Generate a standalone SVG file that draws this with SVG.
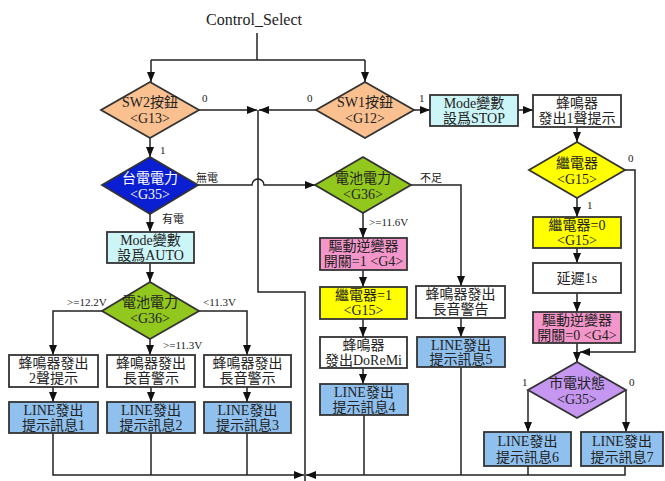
<svg xmlns="http://www.w3.org/2000/svg" width="665" height="481" viewBox="0 0 665 481">
<defs>
<style>
  text { font-family: "Liberation Serif", "Noto Sans CJK TC", serif; fill: #222; }
  .t { font-size: 14px; text-anchor: middle; }
  .tw { fill: #fff; }
  .lbl { font-size: 11px; }
  .ln { fill: none; stroke: #222; stroke-width: 1.5; }
  .arr { marker-end: url(#ah); }
  .shp { stroke: #333; stroke-width: 1.8; }
  .orange { fill: #FAC08F; }
  .blue { fill: #0A1ED2; }
  .green { fill: #92C81E; }
  .cyan { fill: #CCF5F8; }
  .pink { fill: #F596CB; }
  .yellow { fill: #FFFF00; }
  .purple { fill: #C597F0; }
  .lineb { fill: #8FC0EE; }
  .white { fill: #fff; }
</style>
<marker id="ah" viewBox="0 0 10 8" refX="10" refY="4" markerWidth="10" markerHeight="8" markerUnits="userSpaceOnUse" orient="auto">
  <path d="M0,0 L10,4 L0,8 z" fill="#111"/>
</marker>
</defs>
<rect width="665" height="481" fill="#fff"/>

<g id="title">
  <text x="254" y="25" style="font-size:16px;text-anchor:middle">Control_Select</text>
</g>

<!-- connectors -->
<g id="connectors">
  <path class="ln" d="M257,33 V60"/>
  <path class="ln" d="M151,60 H365"/>
  <path class="ln arr" d="M151,60 V82"/>
  <path class="ln arr" d="M365,60 V82"/>
  <path class="ln arr" d="M199,110 H257"/>
  <path class="ln arr" d="M316,110 H259"/>
  <path class="ln" d="M258,110 V292 H305 V481"/>
  <path class="ln arr" d="M150,138 V157"/>
  <path class="ln arr" d="M198,185 H252 A6,6 0 0 1 264,185 H315"/>
  <path class="ln arr" d="M150,214 V232"/>
  <path class="ln arr" d="M150,263 V282"/>
  <path class="ln arr" d="M102,311 H53 V355"/>
  <path class="ln arr" d="M150,339 V355"/>
  <path class="ln arr" d="M199,311 H247 V355"/>
  <path class="ln arr" d="M53,387 V402"/>
  <path class="ln arr" d="M151,387 V402"/>
  <path class="ln arr" d="M247,387 V402"/>
  <path class="ln arr" d="M53,433 V475 H304"/>
  <path class="ln" d="M151,433 V475"/>
  <path class="ln" d="M247,433 V475"/>
  <path class="ln arr" d="M625,466 V475 H306"/>
  <path class="ln" d="M528,466 V475"/>
  <path class="ln" d="M461,367 V475"/>
  <path class="ln" d="M364,415 V475"/>
  <path class="ln arr" d="M363,213 V238"/>
  <path class="ln arr" d="M363,270 V287"/>
  <path class="ln arr" d="M363,319 V337"/>
  <path class="ln arr" d="M363,368 V384"/>
  <path class="ln arr" d="M411,185 H461 V286"/>
  <path class="ln arr" d="M461,318 V337"/>
  <path class="ln arr" d="M414,110 H430"/>
  <path class="ln arr" d="M518,110 H533"/>
  <path class="ln arr" d="M577,127 V142"/>
  <path class="ln arr" d="M577,198 V217"/>
  <path class="ln arr" d="M577,248 V263"/>
  <path class="ln arr" d="M577,293 V312"/>
  <path class="ln arr" d="M577,343 V362"/>
  <path class="ln arr" d="M625,170 H635 V352 H580"/>
  <path class="ln arr" d="M528,390 V432"/>
  <path class="ln arr" d="M626,390 V432"/>
</g>

<!-- connector labels -->
<g id="labels" class="lbl">
  <text x="202" y="102">0</text>
  <text x="307" y="102">0</text>
  <text x="419" y="102">1</text>
  <text x="160" y="154">1</text>
  <text x="196" y="182">無電</text>
  <text x="162" y="223">有電</text>
  <text x="420" y="182">不足</text>
  <text x="369" y="226">&gt;=11.6V</text>
  <text x="67" y="306">&gt;=12.2V</text>
  <text x="203" y="306">&lt;11.3V</text>
  <text x="163" y="349">&gt;=11.3V</text>
  <text x="628" y="162">0</text>
  <text x="587" y="209">1</text>
  <text x="522" y="386">1</text>
  <text x="629" y="386">0</text>
</g>

<g id="sw2">
  <polygon class="shp orange" points="150,82 199,110 150,138 101,110"/>
  <text class="t" x="150" y="107">SW2按鈕</text>
  <text class="t" x="150" y="123">&lt;G13&gt;</text>
</g>
<g id="sw1">
  <polygon class="shp orange" points="365,82 414,110 365,138 316,110"/>
  <text class="t" x="365" y="107">SW1按鈕</text>
  <text class="t" x="365" y="123">&lt;G12&gt;</text>
</g>
<g id="grid-power">
  <polygon class="shp blue" points="150,157 198,185 150,214 102,185"/>
  <text class="t tw" x="150" y="183">台電電力</text>
  <text class="t tw" x="150" y="199">&lt;G35&gt;</text>
</g>
<g id="battery-mid">
  <polygon class="shp green" points="363,157 411,185 363,213 315,185"/>
  <text class="t" x="363" y="183">電池電力</text>
  <text class="t" x="363" y="199">&lt;G36&gt;</text>
</g>
<g id="battery-left">
  <polygon class="shp green" points="150,282 199,311 150,339 102,311"/>
  <text class="t" x="150" y="307">電池電力</text>
  <text class="t" x="150" y="323">&lt;G36&gt;</text>
</g>
<g id="relay-check">
  <polygon class="shp yellow" points="577,142 625,170 577,198 529,170"/>
  <text class="t" x="577" y="168">繼電器</text>
  <text class="t" x="577" y="184">&lt;G15&gt;</text>
</g>
<g id="mains-state">
  <polygon class="shp purple" points="577,362 626,390 577,418 528,390"/>
  <text class="t" x="577" y="388">市電狀態</text>
  <text class="t" x="577" y="404">&lt;G35&gt;</text>
</g>

<g id="mode-auto">
  <rect class="shp cyan" x="107" y="232" width="87" height="31"/>
  <text class="t" x="150.5" y="245">Mode變數</text>
  <text class="t" x="150.5" y="260">設爲AUTO</text>
</g>
<g id="mode-stop">
  <rect class="shp cyan" x="430" y="95" width="88" height="31"/>
  <text class="t" x="474" y="108">Mode變數</text>
  <text class="t" x="474" y="123">設爲STOP</text>
</g>
<g id="beep-once">
  <rect class="shp white" x="533" y="95" width="88" height="32"/>
  <text class="t" x="577" y="108">蜂鳴器</text>
  <text class="t" x="577" y="123">發出1聲提示</text>
</g>
<g id="relay-off">
  <rect class="shp yellow" x="533" y="217" width="88" height="31"/>
  <text class="t" x="577" y="230">繼電器=0</text>
  <text class="t" x="577" y="245">&lt;G15&gt;</text>
</g>
<g id="delay">
  <rect class="shp white" x="533" y="263" width="88" height="30"/>
  <text class="t" x="577" y="283">延遲1s</text>
</g>
<g id="inverter-off">
  <rect class="shp pink" x="533" y="312" width="88" height="31"/>
  <text class="t" x="577" y="325">驅動逆變器</text>
  <text class="t" x="577" y="340">開關=0 &lt;G4&gt;</text>
</g>
<g id="line6">
  <rect class="shp lineb" x="484" y="432" width="87" height="34"/>
  <text class="t" x="527.5" y="446">LINE發出</text>
  <text class="t" x="527.5" y="462">提示訊息6</text>
</g>
<g id="line7">
  <rect class="shp lineb" x="581" y="432" width="82" height="34"/>
  <text class="t" x="622" y="446">LINE發出</text>
  <text class="t" x="622" y="462">提示訊息7</text>
</g>
<g id="inverter-on">
  <rect class="shp pink" x="320" y="238" width="87" height="32"/>
  <text class="t" x="363.5" y="251">驅動逆變器</text>
  <text class="t" x="363.5" y="266">開關=1 &lt;G4&gt;</text>
</g>
<g id="relay-on">
  <rect class="shp yellow" x="320" y="287" width="87" height="32"/>
  <text class="t" x="363.5" y="300">繼電器=1</text>
  <text class="t" x="363.5" y="315">&lt;G15&gt;</text>
</g>
<g id="beep-doremi">
  <rect class="shp white" x="320" y="337" width="87" height="31"/>
  <text class="t" x="363.5" y="350">蜂鳴器</text>
  <text class="t" x="363.5" y="365">發出DoReMi</text>
</g>
<g id="line4">
  <rect class="shp lineb" x="320" y="384" width="88" height="31"/>
  <text class="t" x="364" y="397">LINE發出</text>
  <text class="t" x="364" y="412">提示訊息4</text>
</g>
<g id="beep-warning">
  <rect class="shp white" x="416" y="286" width="89" height="32"/>
  <text class="t" x="460.5" y="299">蜂鳴器發出</text>
  <text class="t" x="460.5" y="314">長音警告</text>
</g>
<g id="line5">
  <rect class="shp lineb" x="417" y="337" width="88" height="30"/>
  <text class="t" x="461" y="350">LINE發出</text>
  <text class="t" x="461" y="364">提示訊息5</text>
</g>
<g id="beep-2">
  <rect class="shp white" x="9" y="355" width="89" height="32"/>
  <text class="t" x="53.5" y="368">蜂鳴器發出</text>
  <text class="t" x="53.5" y="383">2聲提示</text>
</g>
<g id="beep-long-a">
  <rect class="shp white" x="107" y="355" width="88" height="32"/>
  <text class="t" x="151" y="368">蜂鳴器發出</text>
  <text class="t" x="151" y="383">長音警示</text>
</g>
<g id="beep-long-b">
  <rect class="shp white" x="204" y="355" width="87" height="32"/>
  <text class="t" x="247.5" y="368">蜂鳴器發出</text>
  <text class="t" x="247.5" y="383">長音警示</text>
</g>
<g id="line1">
  <rect class="shp lineb" x="9" y="402" width="89" height="31"/>
  <text class="t" x="53.5" y="415">LINE發出</text>
  <text class="t" x="53.5" y="430">提示訊息1</text>
</g>
<g id="line2">
  <rect class="shp lineb" x="107" y="402" width="88" height="31"/>
  <text class="t" x="151" y="415">LINE發出</text>
  <text class="t" x="151" y="430">提示訊息2</text>
</g>
<g id="line3">
  <rect class="shp lineb" x="204" y="402" width="87" height="31"/>
  <text class="t" x="247.5" y="415">LINE發出</text>
  <text class="t" x="247.5" y="430">提示訊息3</text>
</g>
</svg>
